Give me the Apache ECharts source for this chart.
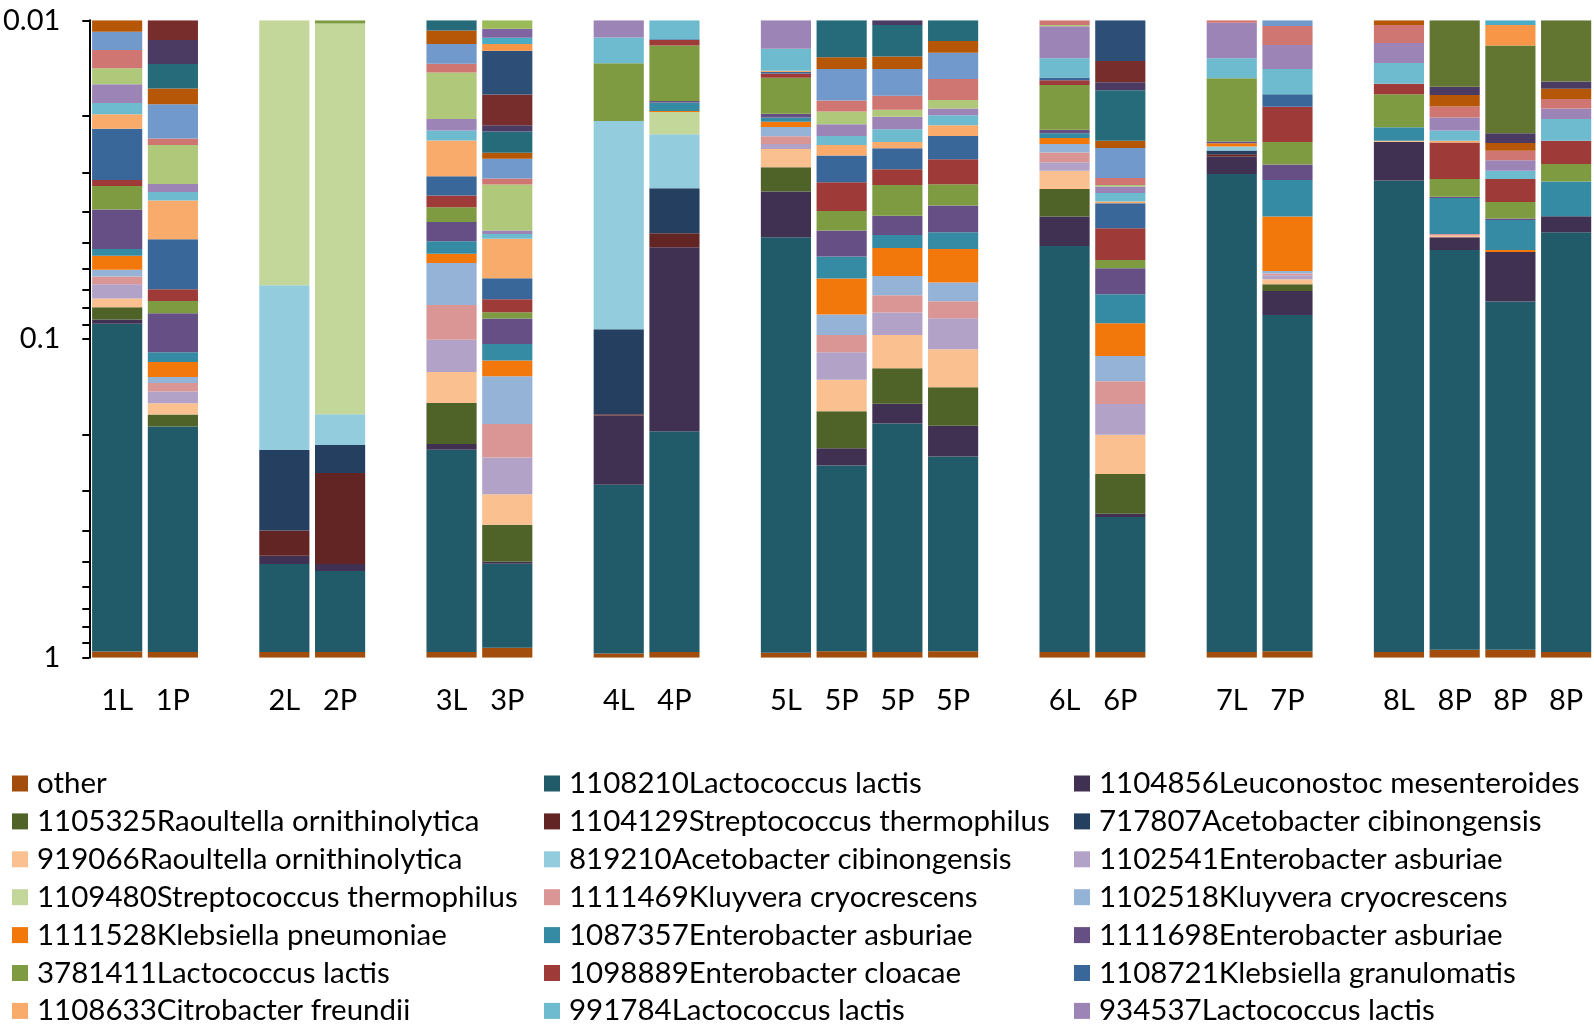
<!DOCTYPE html>
<html><head><meta charset="utf-8">
<script src="https://cdn.jsdelivr.net/npm/echarts@6/dist/echarts.min.js"></script>
<style>html,body{margin:0;padding:0;background:#fff}#c{width:1594px;height:1028px}</style>
</head><body><div id="c"></div>
<script>
// ---------- DATA ----------
const samples = ['1L','1P','2L','2P','3L','3P','4L','4P','5L','5P','5P','5P','6L','6P','7L','7P','8L','8P','8P','8P'];
const sampleGroup = [1,1,2,2,3,3,4,4,5,5,5,5,6,6,7,7,8,8,8,8];
const yTickValues = [0.01,0.02,0.03,0.04,0.05,0.06,0.07,0.08,0.09,0.1,0.2,0.3,0.4,0.5,0.6,0.7,0.8,0.9,1];
const yLabelValues = [0.01, 0.1, 1];

const speciesNames = [
  'other','1108210Lactococcus lactis','1104856Leuconostoc mesenteroides',
  '1105325Raoultella ornithinolytica','1104129Streptococcus thermophilus','717807Acetobacter cibinongensis',
  '919066Raoultella ornithinolytica','819210Acetobacter cibinongensis','1102541Enterobacter asburiae',
  '1109480Streptococcus thermophilus','1111469Kluyvera cryocrescens','1102518Kluyvera cryocrescens',
  '1111528Klebsiella pneumoniae','1087357Enterobacter asburiae','1111698Enterobacter asburiae',
  '3781411Lactococcus lactis','1098889Enterobacter cloacae','1108721Klebsiella granulomatis',
  '1108633Citrobacter freundii','991784Lactococcus lactis','934537Lactococcus lactis',
  'unlisted 22','unlisted 23','unlisted 24','unlisted 25','unlisted 26','unlisted 27',
  'unlisted 28','unlisted 29','unlisted 30','unlisted 31','unlisted 32','unlisted 33','unlisted 34'
];
const speciesColors = [
  '#A24D0B','#215A68','#403152','#4F6228','#632523','#253F60','#FAC090','#93CDDD','#B3A2C7',
  '#C4D79B','#D99694','#95B3D7','#F3780C','#368BA4','#664F84','#7F9B42','#9E3B39','#3A6799',
  '#F9AB6C','#6EBBD0','#9C84B6','#AFC87A','#CF7572','#7299CB','#B65708','#256B7A','#4B3A62',
  '#627531','#772D2B','#2C4E77','#F79646','#4BACC6','#8064A2','#9BBB59'
];

// relative abundance (%) per sample, in sample order
const sp_other   = [4.3,4.0,4.0,4.0,4.0,7.0,3.0,4.0,3.5,4.5,4.0,4.5,4.0,4.0,4.0,4.5,4.0,5.5,5.5,4.0];
const sp_1108210 = [86.74,77.19,45.2,42.52,73.76,42.24,68.34,76.53,91.7,70.58,77.58,72.15,90.9,59.81,92.97,87.1,92.82,89.25,86.87,91.38];
const sp_1104856 = [0.273,0,2.9,2.68,0.88,0.78,11.28,14.32,1.35,2.92,2.47,4.62,0.975,0.85,0.359,1.334,0.775,0.458,2.303,0.502];
const sp_1105325 = [0.744,1.56,0,0,5.49,11.68,0,0,0.554,5.16,3.6,4.57,0.745,8.84,0,0.337,0,0,0,0];
const sp_1104129 = [0,0,8.03,24.45,0,0,0.17,0.491,0,0,0,0,0,0,0.044,0,0,0,0,0];
const sp_717807  = [0,0,17.59,4.86,0,0,7.89,1.296,0,0,0,0,0,0,0.069,0,0,0,0,0];
const sp_919066  = [0.48,1.35,0,0,3.17,7.6,0,0,0.358,3.41,2.64,3.4,0.417,6.51,0,0.239,0.019,0.06,0,0];
const sp_819210  = [0,0,15.5,4.28,0,0,7.249,1.086,0,0,0,0,0,0,0.073,0,0,0,0,0];
const sp_1102541 = [0.735,1.28,0,0,2.65,7.18,0,0,0.09,2.43,1.452,2.16,0.177,4.01,0,0.182,0,0,0,0];
const sp_1109480 = [0,0,6.78,16.19,0,0,0,0.34,0,0,0,0,0,0,0,0,0,0,0,0];
const sp_1111469 = [0.361,0.89,0,0,2.23,5.03,0,0,0.133,1.288,0.973,0.993,0.188,2.42,0,0.081,0,0.055,0,0];
const sp_1102518 = [0.302,0.58,0,0,2.042,5.41,0,0,0.149,1.327,0.949,0.959,0.158,2.26,0,0.115,0,0,0,0];
const sp_1111528 = [0.584,1.35,0,0,0.38,1.4,0,0.015,0.078,1.925,1.159,1.434,0.104,2.376,0.059,1.986,0,0,0.076,0];
const sp_1087357 = [0.268,0.8,0,0,0.459,1.32,0,0.112,0.063,0.948,0.465,0.595,0.077,1.692,0,0.959,0.223,1.071,1.024,0.913];
const sp_1111698 = [1.291,2.703,0,0,0.643,1.733,0,0.021,0.054,0.944,0.613,0.808,0.055,1.232,0.029,0.333,0,0.034,0.04,0];
const sp_3781411 = [0.616,0.704,0,1.024,0.434,0.387,0.705,0.591,0.451,0.605,0.816,0.545,0.612,0.352,0.882,0.428,0.46,0.429,0.472,0.384];
const sp_1098889 = [0.14,0.615,0,0,0.312,0.737,0,0.046,0.045,0.74,0.35,0.541,0.053,1.157,0,0.542,0.123,0.726,0.571,0.433];
const sp_1108721 = [0.978,2.116,0,0,0.463,1.057,0,0.008,0.018,0.566,0.415,0.422,0.03,0.742,0,0.16,0,0,0,0];
const sp_1108633 = [0.219,1.184,0,0,0.703,1.595,0,0,0.011,0.197,0.112,0.171,0,0.043,0,0,0,0.031,0,0];
const sp_991784  = [0.156,0.222,0,0,0.164,0.171,0.231,1.146,0.212,0.155,0.212,0.148,0.196,0.223,0.204,0.285,0.222,0.172,0.18,0.35];
const sp_934537  = [0.228,0.195,0,0,0.178,0.116,1.133,0,1.229,0.186,0.187,0.094,0.272,0.159,0.299,0.225,0.183,0.198,0.215,0.147];
const sp_x22 = [0.174,0.801,0,0,0.582,1.291,0,0,0,0.185,0.099,0.115,0.01,0.039,0,0,0,0,0,0];
const sp_x23 = [0.175,0.11,0,0,0.089,0.139,0,0,0,0.148,0.184,0.249,1.034,0.163,1.017,0.154,0.144,0.154,0.183,0.127];
const sp_x24 = [0.153,0.516,0,0,0.184,0.416,0,0,0,0.365,0.305,0.263,0,0.608,0,1.042,0,0,0,0];
const sp_x25 = [1.086,0.197,0,0,0.109,0.113,0,0,0,0.115,0.122,0.104,0,0.125,0,0,1.034,0.151,0.143,0.124];
const sp_x26 = [0,0.266,0,0,1.077,0.37,0,0,0,1.306,0.265,1.161,0,0.731,0,0,0,0,0,0];
const sp_x27 = [0,0.218,0,0,0,0.099,0,0,0,0,1.034,0,0,0.094,0,0,0,0.099,0.163,0.085];
const sp_x28 = [0,0,0,0,0,0,0,0,0,0,0,0,0,0,0,0,0,1.615,1.062,1.556];
const sp_x29 = [0,1.153,0,0,0,0.428,0,0,0,0,0,0,0,0.223,0,0,0,0,0,0];
const sp_x30 = [0,0,0,0,0,0.461,0,0,0,0,0,0,0,1.341,0,0,0,0,0,0];
const sp_x31 = [0,0,0,0,0,0.061,0,0,0,0,0,0,0,0,0,0,0,0,0.166,0];
const sp_x32 = [0,0,0,0,0,0.052,0,0,0,0,0,0,0,0,0,0,0,0,1.034,0];
const sp_x33 = [0,0,0,0,0,0.071,0,0,0,0,0,0,0,0,0,0,0,0,0,0];
const sp_x34 = [0,0,0,0,0,1.063,0,0,0,0,0,0,0,0,0,0,0,0,0,0];

const abundance = [sp_other,sp_1108210,sp_1104856,sp_1105325,sp_1104129,sp_717807,sp_919066,sp_819210,
  sp_1102541,sp_1109480,sp_1111469,sp_1102518,sp_1111528,sp_1087357,sp_1111698,sp_3781411,sp_1098889,
  sp_1108721,sp_1108633,sp_991784,sp_934537,sp_x22,sp_x23,sp_x24,sp_x25,sp_x26,sp_x27,sp_x28,sp_x29,
  sp_x30,sp_x31,sp_x32,sp_x33,sp_x34];

// ---------- BUILD ----------
const categories = [], sampleCat = [];
sampleGroup.forEach((g, i) => {
  if (i > 0 && g !== sampleGroup[i - 1]) categories.push('');
  sampleCat.push(categories.length);
  categories.push(samples[i]);
});
const K = abundance.length;
// cumulative fraction from the top-most species down
const cum = samples.map((s, i) => {
  const c = new Array(K + 1).fill(0);
  for (let k = K - 1; k >= 0; k--) c[k] = c[k + 1] + abundance[k][i] / 100;
  return c;
});

const YMIN = 0.01, YMAX = 1;
const series = speciesNames.map((name, k) => ({
  type: 'custom', name, coordinateSystem: 'cartesian2d', clip: true,
  itemStyle: { color: speciesColors[k] },
  encode: { x: 0, y: [1, 2] },
  data: samples.map((s, i) => {
    if (!(abundance[k][i] > 0)) return null;
    const top = Math.max(cum[i][k + 1], YMIN), bot = Math.min(cum[i][k], YMAX);
    return top < bot ? [sampleCat[i], top, bot] : null;
  }).filter(Boolean),
  renderItem: (params, api) => {
    const c = api.value(0);
    const p0 = api.coord([c, api.value(1)]);
    const p1 = api.coord([c, api.value(2)]);
    const bw = api.size([1, 0])[0] * 0.9;
    return { type: 'rect',
      shape: { x: p0[0] - bw / 2, y: Math.min(p0[1], p1[1]), width: bw, height: Math.abs(p1[1] - p0[1]) },
      style: { fill: speciesColors[k] } };
  }
}));

const legendCols = [[0,3,6,9,12,15,18],[1,4,7,10,13,16,19],[2,5,8,11,14,17,20]];
const legendLeft = [12, 544, 1074];
const FS = 29;

const chart = echarts.init(document.getElementById('c'), null, { renderer: 'canvas' });
chart.setOption({
  animation: false,
  backgroundColor: '#fff',
  textStyle: { fontFamily: 'Lato' },
  grid: { left: 87, right: 0, top: 20.3, bottom: 370.3, containLabel: false },
  legend: legendCols.map((col, ci) => ({
    orient: 'vertical', left: legendLeft[ci], top: 768.5, padding: 0,
    itemWidth: 16, itemHeight: 16, itemGap: 7.9, icon: 'rect', selectedMode: false,
    data: col.map(k => speciesNames[k]),
    textStyle: { fontSize: 29.5, lineHeight: 30, color: '#000', fontFamily: 'Lato', padding: [0, 0, 0, 4] }
  })),
  xAxis: {
    type: 'category', data: categories,
    axisLine: { show: false }, axisTick: { show: false }, splitLine: { show: false },
    axisLabel: { interval: 0, fontSize: FS, color: '#000', margin: 28, fontFamily: 'Lato' }
  },
  yAxis: {
    type: 'log', logBase: 10, min: YMIN, max: YMAX, inverse: true,
    splitLine: { show: false },
    axisLine: { show: true, lineStyle: { color: '#000', width: 2 } },
    axisTick: { show: true, length: 7, lineStyle: { color: '#000', width: 2 }, customValues: yTickValues },
    axisLabel: { customValues: yLabelValues, fontSize: FS, color: '#000', margin: 29, fontFamily: 'Lato',
      formatter: v => String(+Number(v).toPrecision(3)) }
  },
  series
});
</script></body></html>
